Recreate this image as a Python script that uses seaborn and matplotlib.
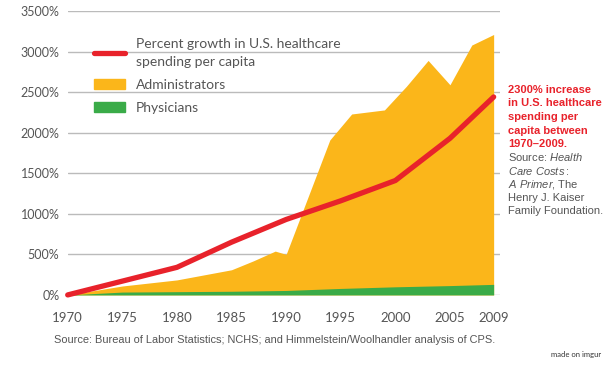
import matplotlib
matplotlib.use("Agg")
import matplotlib.pyplot as plt
import matplotlib.patches as mpatches
from matplotlib.lines import Line2D
import pandas as pd
import seaborn as sns

# Percent growth in U.S. healthcare spending per capita
spend_years = [1970, 1975, 1980, 1985, 1990, 1995, 2000, 2005, 2009]
spend_growth = [0, 170, 340, 650, 930, 1160, 1410, 1930, 2440]

# Administrators (growth %)
admin_years = [1970, 1975, 1980, 1985, 1987, 1989, 1990, 1994, 1996, 1999, 2001, 2003, 2005, 2007, 2009]
admin_growth = [0, 110, 185, 310, 420, 540, 500, 1910, 2230, 2280, 2570, 2890, 2590, 3080, 3210]

# Physicians (growth %)
phys_years = [1970, 1975, 1980, 1985, 1990, 1995, 2000, 2005, 2009]
phys_growth = [0, 35, 40, 45, 55, 80, 100, 115, 130]

x_ticks = [1970, 1975, 1980, 1985, 1990, 1995, 2000, 2005, 2009]
y_ticks = [0, 500, 1000, 1500, 2000, 2500, 3000, 3500]

note_red = ["2300% increase", "in U.S. healthcare", "spending per", "capita between", "1970\u20132009."]
note_gray = ["Source: $\\it{Health}$", "$\\it{Care\\ Costs:}$", "$\\it{A\\ Primer}$, The",
             "Henry J. Kaiser", "Family Foundation."]

RED = "#e8222b"
ORANGE = "#fbb61a"
GREEN = "#3aab48"
GRAY = "#555555"

sns.set_style("white")
plt.rcParams["font.family"] = ["Lato", "DejaVu Sans"]
plt.rcParams["mathtext.fontset"] = "custom"
plt.rcParams["mathtext.rm"] = "Liberation Sans"
plt.rcParams["mathtext.it"] = "Liberation Sans:italic"

fig = plt.figure(figsize=(6.1, 3.65), dpi=100)
ax = fig.add_axes([0.111, 0.192, 0.709, 0.778])

ax.fill_between(admin_years, 0, admin_growth, color=ORANGE, lw=0, zorder=2)
ax.fill_between(phys_years, 0, phys_growth, color=GREEN, lw=0, zorder=3)

spend = pd.DataFrame({"year": spend_years, "growth": spend_growth})
sns.lineplot(data=spend, x="year", y="growth", ax=ax, color=RED, lw=3.8,
             zorder=4, clip_on=False, solid_capstyle="round")

ax.set_xlim(1970, 2009.6)
ax.set_ylim(0, 3500)
ax.set_yticks(y_ticks)
ax.set_yticklabels([f"{v}%" for v in y_ticks], fontsize=9, color=GRAY)
ax.set_xticks(x_ticks)
ax.set_xticklabels([str(v) for v in x_ticks], fontsize=9.5, color=GRAY)
ax.tick_params(axis="y", length=0, pad=6)
ax.tick_params(axis="x", length=0, pad=12)
ax.grid(axis="y", color="#bbbbbb", lw=1, zorder=1)
ax.set_axisbelow(True)
for s in ax.spines.values():
    s.set_visible(False)
ax.set_xlabel("")
ax.set_ylabel("")

handles = [
    Line2D([], [], color=RED, lw=3.8),
    mpatches.Patch(color=ORANGE),
    mpatches.Patch(color=GREEN),
]
labels = ["Percent growth in U.S. healthcare\nspending per capita", "Administrators", "Physicians"]
leg = ax.legend(handles, labels, loc="upper left", bbox_to_anchor=(0.033, 0.95), frameon=False,
                fontsize=10, labelcolor=GRAY, handlelength=2.2, labelspacing=0.8)
for t in leg.get_texts():
    t.set_linespacing(1.6)

# right-hand note, one line at a time
x_note = 0.833
y0 = 1 - 90 / 365
step = 13.5 / 365
for i, line in enumerate(note_red):
    fig.text(x_note, y0 - i * step, line, color=RED, fontsize=8, fontweight="bold",
             family=["Liberation Sans", "DejaVu Sans"], va="center")
for i, line in enumerate(note_gray):
    fig.text(x_note, y0 - (i + 5) * step, line, color=GRAY, fontsize=8,
             family=["Liberation Sans", "DejaVu Sans"], va="center")

fig.text(0.451, 0.068, "Source: Bureau of Labor Statistics; NCHS; and Himmelstein/Woolhandler analysis of CPS.",
         color=GRAY, fontsize=7.9, family=["Liberation Sans", "DejaVu Sans"], ha="center", va="center")
fig.text(0.985, 0.02, "made on imgur", color="#333333", fontsize=5.5, ha="right", va="bottom")

fig.savefig("out.png", dpi=100)
